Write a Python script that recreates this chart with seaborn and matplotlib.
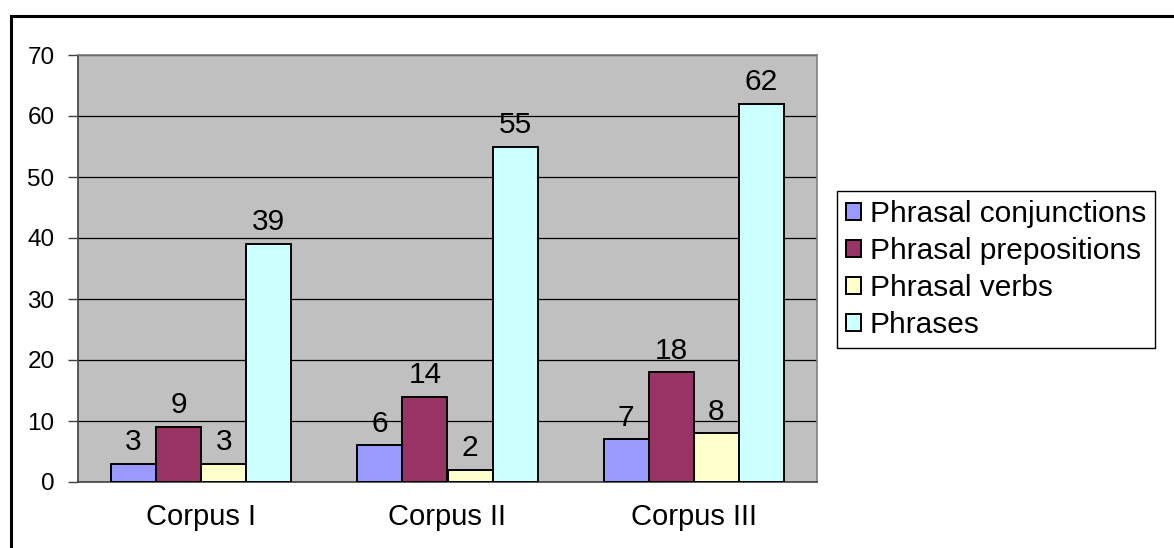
import matplotlib
matplotlib.use("Agg")
import matplotlib.pyplot as plt
from matplotlib.patches import Rectangle
import seaborn as sns
import pandas as pd

# Counts per corpus for each construction type
corpora = ["Corpus I", "Corpus II", "Corpus III"]
series_names = ["Phrasal conjunctions", "Phrasal prepositions", "Phrasal verbs", "Phrases"]
phrasal_conjunctions = [3, 6, 7]
phrasal_prepositions = [9, 14, 18]
phrasal_verbs = [3, 2, 8]
phrases = [39, 55, 62]
y_ticks = [0, 10, 20, 30, 40, 50, 60, 70]

colors = ["#9999FF", "#993366", "#FFFFCC", "#CCFFFF"]

rows = []
for name, vals in zip(series_names, [phrasal_conjunctions, phrasal_prepositions, phrasal_verbs, phrases]):
    for corpus, v in zip(corpora, vals):
        rows.append({"Corpus": corpus, "Type": name, "Count": v})
df = pd.DataFrame(rows)

sns.set_theme(style="white")
plt.rcParams["font.family"] = ["Liberation Sans", "DejaVu Sans"]
plt.rcParams["text.color"] = "black"
plt.rcParams["xtick.color"] = "black"
plt.rcParams["ytick.color"] = "black"

W, H = 1174, 548
fig = plt.figure(figsize=(W / 100, H / 100), dpi=100)
fig.patch.set_facecolor("white")

# Outer chart border (top and left visible)
fig.add_artist(Rectangle((11 / W, -0.1), 1.2, (H - 16) / H + 0.1, transform=fig.transFigure,
                         fill=False, edgecolor="black", linewidth=2.2))

ax = fig.add_axes([78 / W, (H - 482) / H, (817 - 78) / W, (482 - 55) / H])
ax.set_facecolor("#C0C0C0")

sns.barplot(data=df, x="Corpus", y="Count", hue="Type", order=corpora, hue_order=series_names,
            palette=colors, width=0.731, edgecolor="black", linewidth=1.4, saturation=1,
            ax=ax, zorder=3, legend=True)

for c in ax.containers:
    ax.bar_label(c, labels=[f"{int(v)}" for v in c.datavalues], padding=5.5, fontsize=21.5, color="black")

ax.set_ylim(0, 70)
ax.set_xlim(-0.5, 2.5)
ax.set_yticks(y_ticks)
ax.set_yticklabels([str(t) for t in y_ticks], fontsize=17.5, color="black")
ax.yaxis.grid(True, color="black", linewidth=0.9, zorder=1)
ax.set_axisbelow(True)

# Category labels centered, ticks at group boundaries
ax.set_xticks([0, 1, 2])
ax.set_xticklabels(corpora, fontsize=21, color="black")
ax.tick_params(axis="x", length=0, pad=15)
ax.set_xticks([0.5, 1.5, 2.5], minor=True)
ax.tick_params(axis="x", which="minor", length=7, width=1, color="#404040", direction="out")
ax.tick_params(axis="y", length=7, width=1, color="#404040", labelcolor="black",
               direction="out", pad=10, left=True)
ax.set_xlabel("")
ax.set_ylabel("")

for side in ["left", "bottom"]:
    ax.spines[side].set_color("#404040")
    ax.spines[side].set_linewidth(1.2)
for side in ["top", "right"]:
    ax.spines[side].set_visible(True)
    ax.spines[side].set_color("#808080")
    ax.spines[side].set_linewidth(1.2)

handles, labels = ax.get_legend_handles_labels()
ax.get_legend().remove()
leg = fig.legend(handles, labels, loc="upper left",
                 bbox_to_anchor=(837 / W, (H - 191) / H), bbox_transform=fig.transFigure,
                 fontsize=21.5, frameon=True, fancybox=False, framealpha=1,
                 handlelength=0.5, handleheight=0.5, handletextpad=0.3,
                 labelspacing=0.3, borderpad=0.3, borderaxespad=0)
leg.get_frame().set_edgecolor("black")
leg.get_frame().set_linewidth(1.0)
for t in leg.get_texts():
    t.set_color("black")

fig.savefig("out.png", dpi=100)
